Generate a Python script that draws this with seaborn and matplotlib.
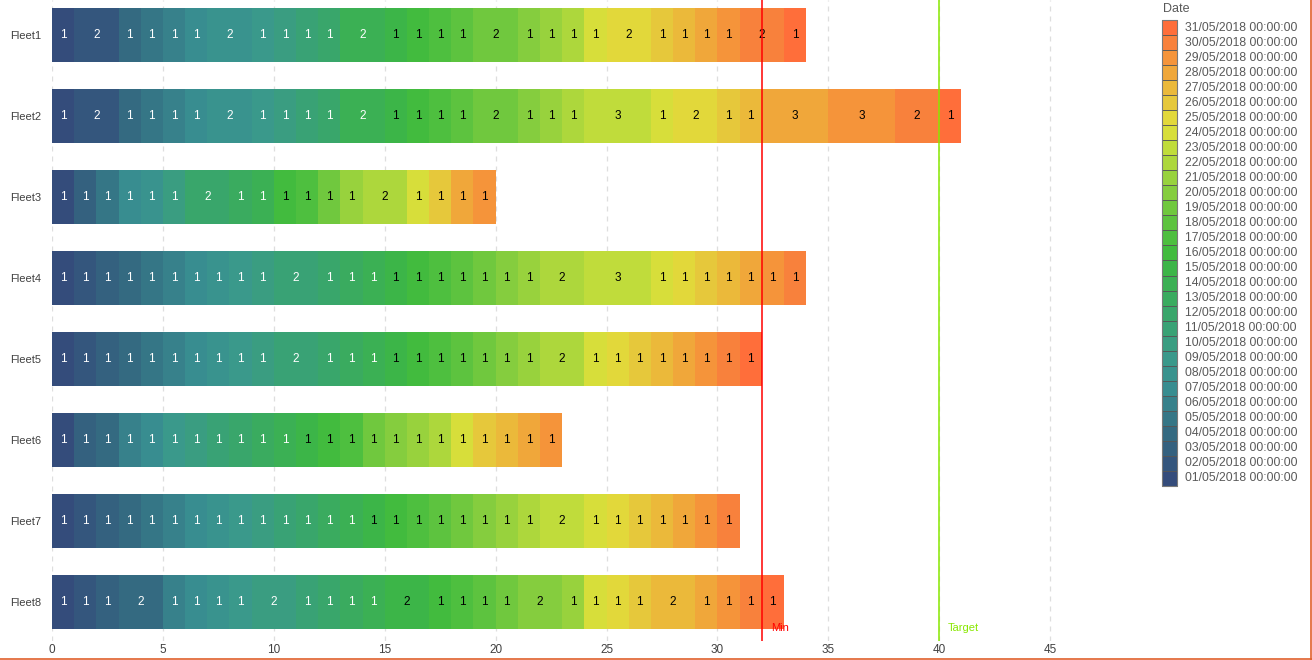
import numpy as np
import pandas as pd
import matplotlib
matplotlib.use("Agg")
import matplotlib.pyplot as plt
import seaborn as sns
from matplotlib.colors import LinearSegmentedColormap, to_hex
from matplotlib.patches import Rectangle
from matplotlib.lines import Line2D
import matplotlib.transforms as mtransforms

# ---------------- data ----------------
fleets = ["Fleet1", "Fleet2", "Fleet3", "Fleet4", "Fleet5", "Fleet6", "Fleet7", "Fleet8"]

dates = [
    "01/05/2018 00:00:00", "02/05/2018 00:00:00", "03/05/2018 00:00:00", "04/05/2018 00:00:00",
    "05/05/2018 00:00:00", "06/05/2018 00:00:00", "07/05/2018 00:00:00", "08/05/2018 00:00:00",
    "09/05/2018 00:00:00", "10/05/2018 00:00:00", "11/05/2018 00:00:00", "12/05/2018 00:00:00",
    "13/05/2018 00:00:00", "14/05/2018 00:00:00", "15/05/2018 00:00:00", "16/05/2018 00:00:00",
    "17/05/2018 00:00:00", "18/05/2018 00:00:00", "19/05/2018 00:00:00", "20/05/2018 00:00:00",
    "21/05/2018 00:00:00", "22/05/2018 00:00:00", "23/05/2018 00:00:00", "24/05/2018 00:00:00",
    "25/05/2018 00:00:00", "26/05/2018 00:00:00", "27/05/2018 00:00:00", "28/05/2018 00:00:00",
    "29/05/2018 00:00:00", "30/05/2018 00:00:00", "31/05/2018 00:00:00",
]

# counts per date (01/05 ... 31/05), 0 = no entry
fleet1 = [1, 2, 0, 1, 1, 1, 1, 2, 1, 1, 1, 1, 0, 2, 1, 1, 1, 1, 2, 1, 1, 1, 0, 1, 2, 1, 1, 1, 1, 2, 1]
fleet2 = [1, 2, 0, 1, 1, 1, 1, 2, 1, 1, 1, 1, 0, 2, 1, 1, 1, 1, 2, 1, 1, 1, 3, 1, 2, 1, 1, 3, 3, 2, 1]
fleet3 = [1, 0, 1, 0, 1, 0, 1, 1, 0, 1, 0, 2, 1, 1, 0, 1, 1, 0, 1, 0, 1, 2, 0, 1, 0, 1, 0, 1, 1, 0, 0]
fleet4 = [1, 1, 1, 1, 1, 1, 1, 1, 1, 1, 2, 1, 1, 1, 1, 1, 1, 1, 1, 1, 1, 2, 3, 1, 1, 1, 1, 1, 1, 1, 0]
fleet5 = [1, 1, 1, 1, 1, 1, 1, 1, 1, 1, 2, 1, 1, 1, 1, 1, 1, 1, 1, 1, 1, 2, 0, 1, 1, 1, 1, 1, 1, 1, 1]
fleet6 = [1, 0, 1, 1, 0, 1, 1, 0, 1, 1, 1, 1, 1, 1, 1, 1, 1, 0, 1, 1, 1, 1, 0, 1, 0, 1, 1, 1, 1, 0, 0]
fleet7 = [1, 1, 1, 1, 1, 1, 1, 1, 1, 1, 1, 1, 1, 1, 1, 1, 1, 1, 1, 1, 1, 1, 2, 1, 1, 1, 1, 1, 1, 1, 0]
fleet8 = [1, 1, 1, 2, 0, 1, 1, 1, 1, 2, 1, 1, 1, 1, 2, 1, 1, 1, 1, 2, 1, 0, 0, 1, 1, 1, 2, 1, 1, 1, 1]

min_value = 32
target_value = 40
x_ticks = [0, 5, 10, 15, 20, 25, 30, 35, 40, 45]

# ---------------- styles ----------------
anchor_pos = [0, 3, 6, 8, 11, 14, 15, 17, 20, 22, 23, 24, 25, 26, 27, 28, 29, 30]
anchor_col = ["#344C7B", "#346B81", "#388D90", "#3A998B", "#39A66A", "#3CB548", "#41BB3E",
              "#5CC33F", "#98D23D", "#C0DC3B", "#D6DE3A", "#E2D83A", "#E6C93B", "#EBB93A",
              "#F0A83A", "#F5943A", "#F8823C", "#FF6E3A"]
cmap = LinearSegmentedColormap.from_list(
    "qgrad", list(zip([p / 30 for p in anchor_pos], anchor_col)))
palette = [to_hex(cmap(i / 30)) for i in range(31)]

FONT = ["Liberation Sans", "DejaVu Sans"]
TXT = "#595959"

sns.set_theme(style="white")
plt.rcParams["font.family"] = FONT

W, H = 1312, 660
fig = plt.figure(figsize=(W / 100, H / 100), dpi=100)
ax_left, ax_right, ax_top, ax_bottom = 52, 1150, 0, 641
ax = fig.add_axes([ax_left / W, (H - ax_bottom) / H, (ax_right - ax_left) / W, (ax_bottom - ax_top) / H])

# long data
series = [fleet1, fleet2, fleet3, fleet4, fleet5, fleet6, fleet7, fleet8]
df = pd.DataFrame(series, index=fleets, columns=dates)
cum = df.cumsum(axis=1)

# gridlines (behind)
for t in x_ticks:
    ax.axvline(t, color="#dedede", lw=0.9, ls=(0, (4, 4)), zorder=0)

# stacked bars via overlaid cumulative totals (latest date first)
bar_w = 0.667
for i in reversed(range(len(dates))):
    sns.barplot(x=cum[dates[i]].values, y=fleets, order=fleets, orient="h",
                color=palette[i], saturation=1, width=bar_w, linewidth=0,
                ax=ax, zorder=2)

# value labels
for r, f in enumerate(fleets):
    left = 0
    for i, d in enumerate(dates):
        v = df.loc[f, d]
        if v > 0:
            ax.text(left + v / 2, r, str(v), ha="center", va="center",
                    fontsize=8.5, color="white" if i < 14 else "black", zorder=5)
            left += v

# reference lines
ax.axvline(min_value, color="#FF0000", lw=1.1, zorder=6)
ax.axvline(target_value, color="#88E800", lw=1.1, zorder=6)
trans = mtransforms.blended_transform_factory(ax.transData, ax.transAxes)
ax.text(min_value + 0.4, 0.012, "Min", color="#FF0000", fontsize=8, transform=trans,
        ha="left", va="bottom", zorder=7)
ax.text(target_value + 0.4, 0.012, "Target", color="#88E800", fontsize=8, transform=trans,
        ha="left", va="bottom", zorder=7)

ax.set_xlim(0, (ax_right - ax_left) / 22.18)
ax.set_ylim(7.48, -0.43)
ax.set_xticks(x_ticks)
ax.set_xticklabels([str(t) for t in x_ticks])
ax.set_xlabel("")
ax.set_ylabel("")
ax.tick_params(axis="x", length=0, pad=2, labelsize=8.5, labelcolor="#404040")
ax.tick_params(axis="y", length=0, pad=8, labelsize=8, labelcolor="#404040")
for s in ax.spines.values():
    s.set_visible(False)
ax.grid(False)
ax.set_facecolor("white")

# ---------------- legend (drawn in pixel space) ----------------
lg = fig.add_axes([0, 0, 1, 1], facecolor="none")
lg.set_xlim(0, W)
lg.set_ylim(H, 0)
lg.axis("off")
lg.text(1163, 9, "Date", fontsize=9, color=TXT, ha="left", va="center")
sw_x, sw_y0, sw_w, sw_h = 1162, 20, 15, 15.03
n = len(dates)
for k in range(n):
    i = n - 1 - k
    y = sw_y0 + k * sw_h
    lg.add_patch(Rectangle((sw_x, y), sw_w, sw_h, facecolor=palette[i],
                           edgecolor="#555555", lw=0.6))
    lg.text(1185, y + sw_h / 2, dates[i], fontsize=8.8, color=TXT, ha="left", va="center")
lg.add_patch(Rectangle((sw_x, sw_y0), sw_w, sw_h * n, facecolor="none",
                       edgecolor="#7a7a7a", lw=0.8))

# thin orange frame at right and bottom
lg.add_line(Line2D([0, W], [H - 0.8, H - 0.8], color="#E0602C", lw=1.2, clip_on=False))
lg.add_line(Line2D([W - 0.8, W - 0.8], [0, H], color="#E0602C", lw=1.2, clip_on=False))

fig.savefig("out.png", dpi=100)
